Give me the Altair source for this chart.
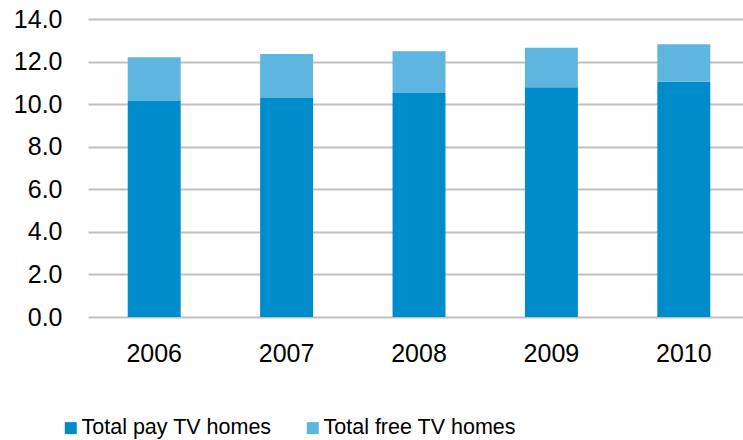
import altair as alt
import pandas as pd

years = ["2006", "2007", "2008", "2009", "2010"]
pay_tv = [10.15, 10.29, 10.52, 10.79, 11.05]
free_tv = [2.05, 2.06, 1.97, 1.86, 1.76]
series = ["Total pay TV homes", "Total free TV homes"]
colors = ["#008BCB", "#5EB5DF"]

rows = []
for i, y in enumerate(years):
    rows.append({"year": y, "series": series[0], "value": pay_tv[i], "ord": 0})
    rows.append({"year": y, "series": series[1], "value": free_tv[i], "ord": 1})
df = pd.DataFrame(rows)

chart = alt.Chart(df).mark_bar().encode(
    x=alt.X("year:N", title=None, sort=years,
            scale=alt.Scale(paddingInner=0.6, paddingOuter=0.3, range=[0, 662]),
            axis=alt.Axis(labelAngle=0, labelFontSize=25, labelFont="Liberation Sans",
                          labelColor="#000000", ticks=False, domain=False, labelPadding=24)),
    y=alt.Y("value:Q", title=None, stack="zero",
            scale=alt.Scale(domain=[0, 14]),
            axis=alt.Axis(values=[0, 2, 4, 6, 8, 10, 12, 14], format=".1f",
                          labelFontSize=25, labelFont="Liberation Sans", labelColor="#000000",
                          ticks=False, domain=False, labelPadding=26,
                          gridColor="#C0C0C0", gridWidth=2)),
    color=alt.Color("series:N", sort=series,
                    scale=alt.Scale(domain=series, range=colors),
                    legend=alt.Legend(title=None, orient="none", direction="horizontal",
                                      legendX=-28, legendY=398, symbolType="square",
                                      symbolSize=144, symbolStrokeWidth=0,
                                      labelFontSize=21.5, labelFont="Liberation Sans",
                                      labelColor="#000000", columnPadding=30,
                                      symbolOffset=0, labelOffset=0, labelLimit=500)),
    order=alt.Order("ord:Q", sort="ascending"),
).properties(
    width=655, height=298,
    padding={"left": 88, "top": 19, "right": 0, "bottom": 123},
    autosize=alt.AutoSizeParams(type="none"),
).configure_view(stroke=None)

chart.save("out.html", embed_options={"renderer": "svg", "actions": False})
